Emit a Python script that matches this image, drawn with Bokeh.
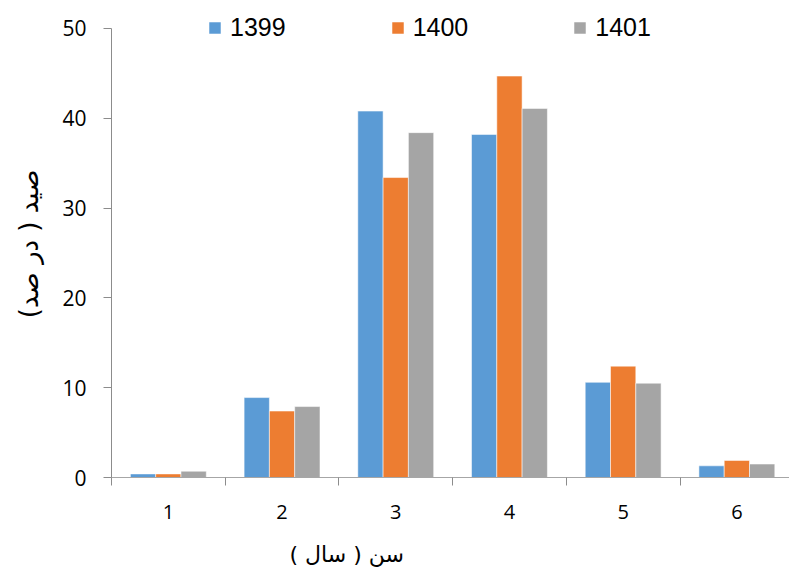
from bokeh.plotting import figure
from bokeh.models import (ColumnDataSource, Range1d, FixedTicker, Legend, LegendItem, Title)
from bokeh.transform import dodge
from bokeh.embed import file_html
from bokeh.resources import INLINE

# Age classes and catch share (percent) per year
ages = [1, 2, 3, 4, 5, 6]
y1399 = [0.4, 8.9, 40.8, 38.2, 10.6, 1.3]
y1400 = [0.4, 7.4, 33.4, 44.7, 12.4, 1.9]
y1401 = [0.7, 7.9, 38.4, 41.1, 10.5, 1.5]
years = ["1399", "1400", "1401"]
colors = ["#5B9BD5", "#ED7D31", "#A5A5A5"]
y_ticks = [0, 10, 20, 30, 40, 50]

x_title = "\u202bسن ( سال )\u202c"
y_title = "\u202bصید ( در صد)\u202c"

source = ColumnDataSource(dict(age=ages, y1399=y1399, y1400=y1400, y1401=y1401))

# frame reaches a little above 50 so the legend row fits inside it
p = figure(width=789, height=570,
           x_range=Range1d(0.5, 6.463), y_range=Range1d(0, 52.0),
           min_border_left=111, min_border_right=0,
           min_border_top=10, min_border_bottom=93,
           output_backend="svg", toolbar_location=None)

bar_w = 0.2225
renderers = []
for i, (yr, col) in enumerate(zip(years, colors)):
    r = p.vbar(x=dodge("age", (i - 1) * bar_w), top="y" + yr, width=bar_w,
               source=source, fill_color=col, line_color="white",
               line_width=0.75, line_alpha=0.7)
    renderers.append(r)

p.outline_line_color = None
p.xgrid.visible = False
p.ygrid.visible = False
p.background_fill_color = "white"
p.border_fill_color = "white"

axis_gray = "#8c8c8c"
font = "Open Sans"

xa = p.xaxis[0]
xa.ticker = FixedTicker(ticks=ages, minor_ticks=[0.5, 1.5, 2.5, 3.5, 4.5, 5.5, 6.5])
xa.major_tick_out = 0
xa.major_tick_in = 0
xa.minor_tick_out = 8
xa.minor_tick_in = 0
xa.minor_tick_line_color = axis_gray
xa.axis_line_color = "#a6a6a6"
xa.major_label_text_font = font
xa.major_label_text_font_size = "20px"
xa.major_label_text_color = "black"
xa.major_label_standoff = 19
# blank axis label only adds a little room between tick labels and the title
xa.axis_label = "\u00a0"
xa.axis_label_text_font_size = "8px"
xa.axis_label_standoff = 4

ya = p.yaxis[0]
ya.ticker = FixedTicker(ticks=y_ticks)
ya.bounds = (0, 50)
ya.major_tick_out = 8
ya.major_tick_in = 0
ya.minor_tick_out = 0
ya.minor_tick_in = 0
ya.major_tick_line_color = axis_gray
ya.axis_line_color = axis_gray
ya.major_label_text_font = font
ya.major_label_text_font_size = "21px"
ya.major_label_text_color = "black"
ya.major_label_standoff = 17
ya.axis_label = y_title
ya.axis_label_text_font = "DejaVu Sans"
ya.axis_label_text_font_size = "26px"
ya.axis_label_text_font_style = "normal"
ya.axis_label_text_color = "black"
ya.axis_label_standoff = 15

p.add_layout(Title(text=x_title, align="left", offset=178, standoff=4,
                   text_font="DejaVu Sans", text_font_size="22px",
                   text_font_style="normal", text_color="black"), "below")

legend = Legend(items=[LegendItem(label=yr, renderers=[r]) for yr, r in zip(years, renderers)],
                orientation="horizontal", location=(96, 435),
                padding=0, margin=0, spacing=104,
                glyph_width=15, glyph_height=15, label_height=15,
                label_standoff=8, label_text_font="Liberation Sans",
                label_text_font_size="25px", label_text_color="black",
                border_line_color=None, background_fill_alpha=0)
p.add_layout(legend)

open("out.html", "w").write(file_html(p, INLINE))
